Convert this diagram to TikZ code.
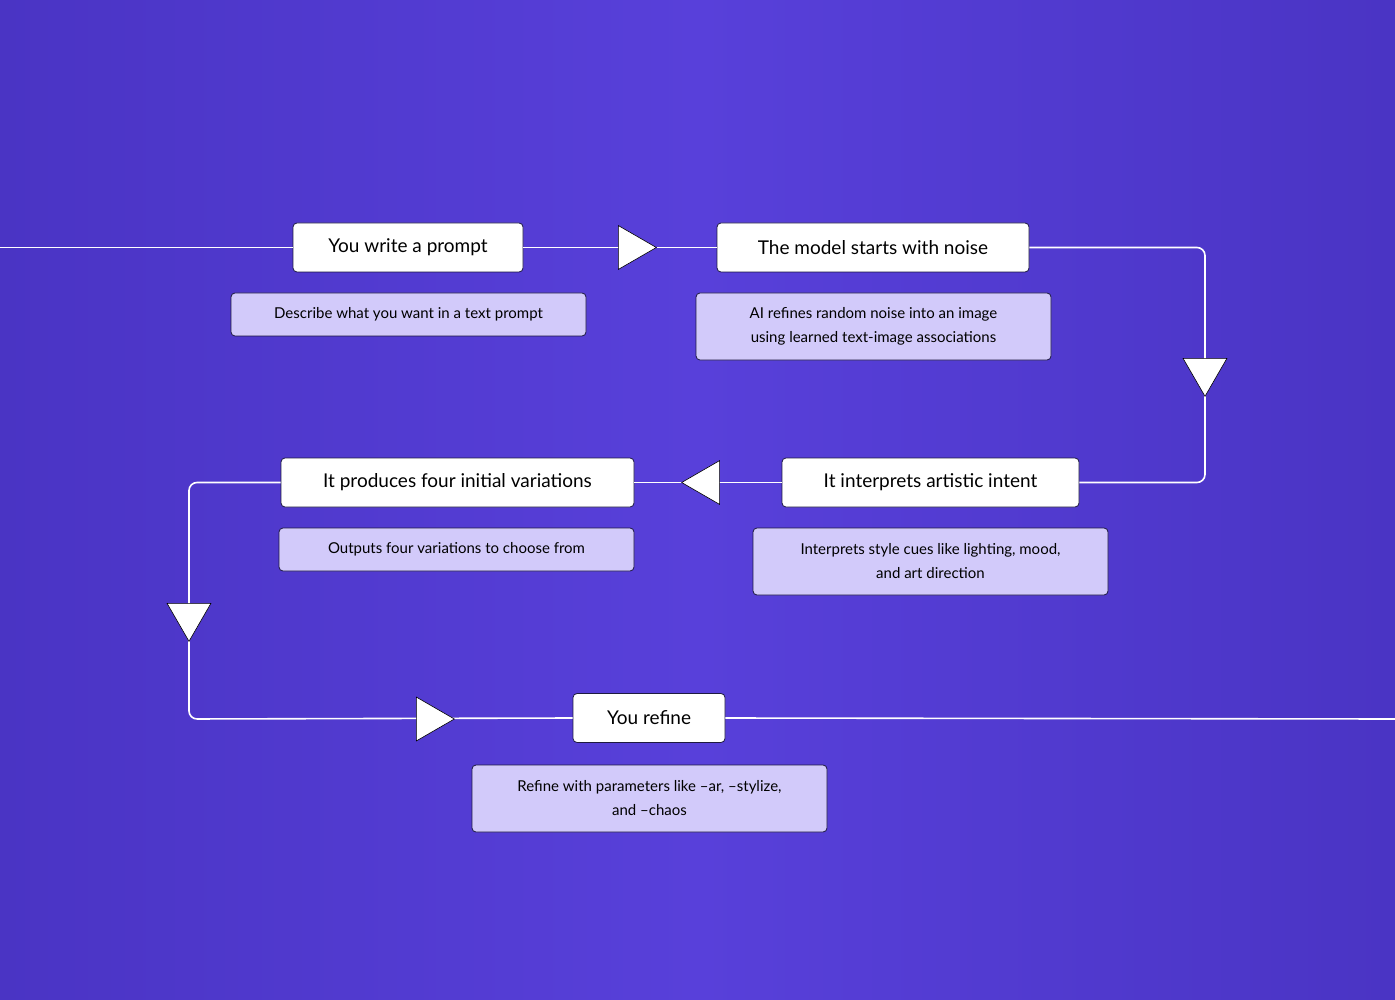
\documentclass[tikz,border=0pt]{standalone}
\usepackage{fontspec}
\setmainfont{Lato}
\usetikzlibrary{shapes.geometric}
\definecolor{bgL}{HTML}{4A34C4}
\definecolor{bgM}{HTML}{5840DA}
\definecolor{desc}{HTML}{D2CAFA}
\definecolor{edge}{HTML}{1E1A40}
\begin{document}
\begin{tikzpicture}[x=1pt,y=-1pt,
  mainbox/.style={draw=edge,fill=white,rounded corners=4pt,line width=0.8pt,inner sep=0pt,font=\fontsize{19}{22}\selectfont,align=center},
  descbox/.style={draw=edge,fill=desc,rounded corners=4pt,line width=0.8pt,inner sep=0pt,font=\fontsize{15}{24}\selectfont,align=center},
  flow/.style={draw=white,line width=1.6pt,rounded corners=8pt},
  tri/.style={draw=black,fill=white,line width=0.6pt,isosceles triangle,isosceles triangle apex angle=60,minimum height=38pt,inner sep=0pt}]
\shade[left color=bgL,right color=bgL,middle color=bgM] (0,0) rectangle (1395,1000);
\useasboundingbox (0,0) rectangle (1395,1000);
\coordinate (L0) at (0,247.5);
\coordinate (R0) at (1395,719);
\coordinate (C1) at (1205,247.5);
\coordinate (C2) at (1205,482.5);
\coordinate (C3) at (189,482.5);
\coordinate (C4) at (189,719);
\node[mainbox,minimum width=230pt,minimum height=49pt] (b1) at (408,247.5) {You write a prompt};
\node[mainbox,minimum width=312pt,minimum height=49pt] (b2) at (873,247.5) {The model starts with noise};
\node[mainbox,minimum width=297pt,minimum height=49pt] (b3) at (930.5,482.5) {It interprets artistic intent};
\node[mainbox,minimum width=353pt,minimum height=49pt] (b4) at (457.5,482.5) {It produces four initial variations};
\node[mainbox,minimum width=152pt,minimum height=49pt] (b5) at (649,718) {You refine};
\node[descbox,minimum width=355pt,minimum height=43pt] (d1) at (408.5,314.5) {Describe what you want in a text prompt};
\node[descbox,minimum width=355pt,minimum height=67pt] (d2) at (873.5,326.5) {AI refines random noise into an image\\using learned text-image associations};
\node[descbox,minimum width=355pt,minimum height=67pt] (d3) at (930.5,561.5) {Interprets style cues like lighting, mood,\\and art direction};
\node[descbox,minimum width=355pt,minimum height=43pt] (d4) at (456.5,549.5) {Outputs four variations to choose from};
\node[descbox,minimum width=355pt,minimum height=67pt] (d5) at (649.5,798.5) {Refine with parameters like –ar, –stylize,\\and –chaos};
\begin{scope}[on background layer/.style={}]
\end{scope}
\draw[flow] (L0) -- (b1.west);
\draw[flow] (b1.east) -- (b2.west);
\draw[flow] (b2.east) -- (C1) -- (C2) -- (b3.east);
\draw[flow] (b3.west) -- (b4.east);
\draw[flow] (b4.west) -- (C3) -- (C4) -- (b5.west);
\draw[flow] (b5.east) -- (R0);
\node[tri,shape border rotate=0] (t1) at (631,247.5) {};
\node[tri,shape border rotate=-90] (t2) at (1205,371) {};
\node[tri,shape border rotate=180] (t3) at (707,482.5) {};
\node[tri,shape border rotate=-90] (t4) at (189,616) {};
\node[tri,shape border rotate=0] (t5) at (429,719) {};
\end{tikzpicture}
\end{document}
